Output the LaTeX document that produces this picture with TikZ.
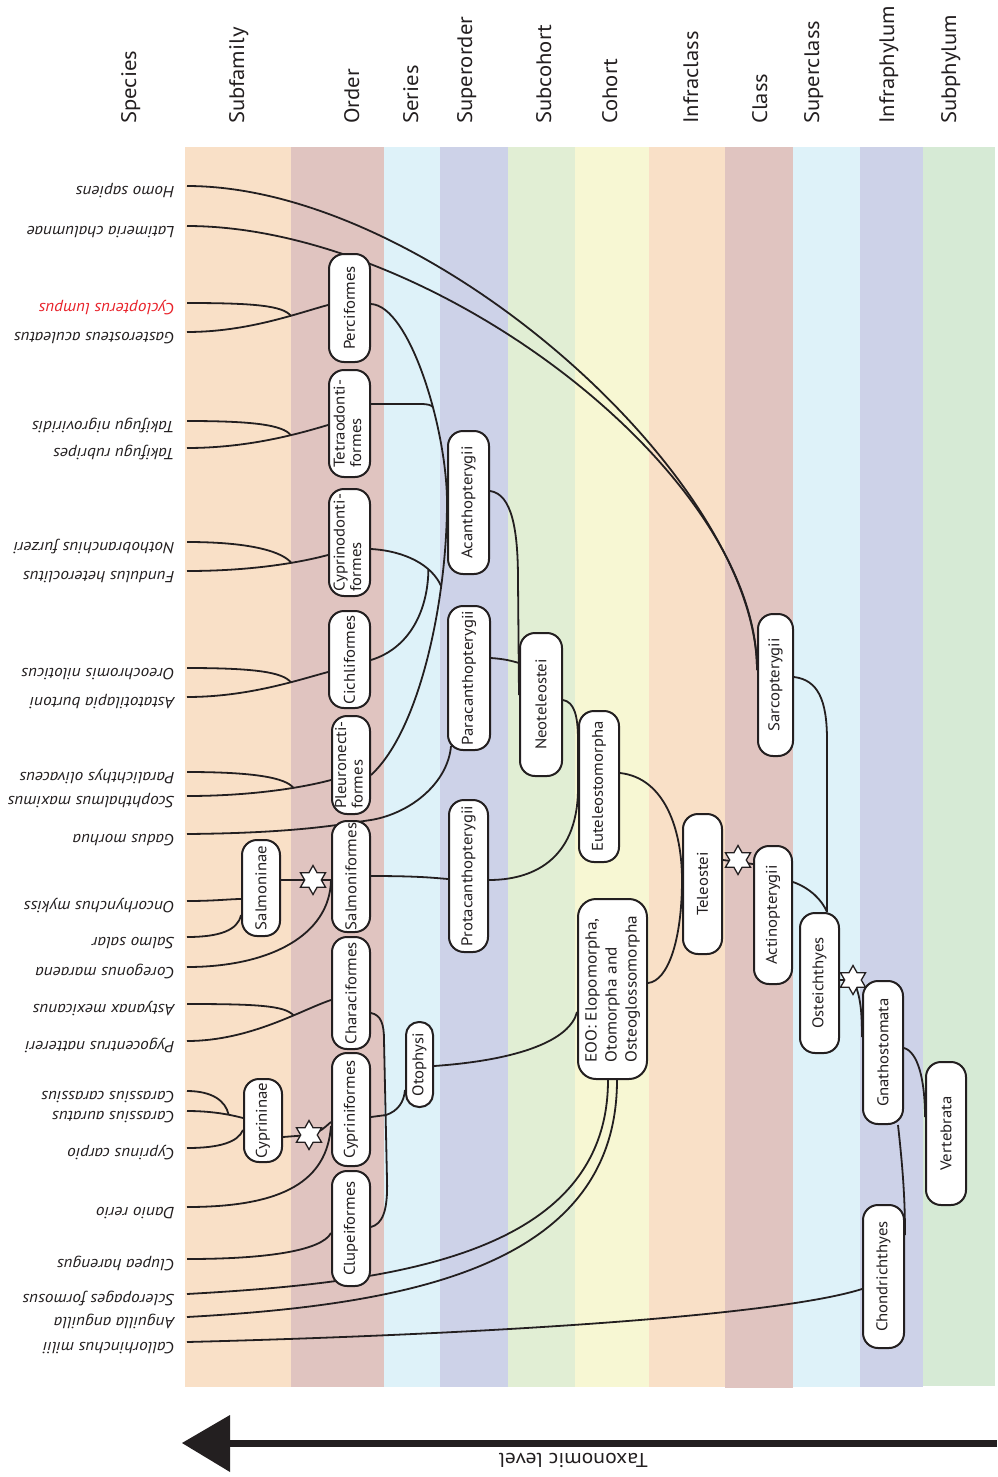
\documentclass[tikz,border=0pt]{standalone}
\usepackage{fontspec}
\setmainfont{PT Sans}[FakeStretch=1.08]
\usepackage{graphicx}
\usetikzlibrary{shapes.geometric,calc}
\pgfdeclarelayer{bands}
\pgfdeclarelayer{links}
\pgfsetlayers{bands,links,main}
\definecolor{ink}{HTML}{231F20}
\definecolor{peach}{HTML}{F9E0C7}
\definecolor{rose}{HTML}{E0C4C0}
\definecolor{sky}{HTML}{DEF2F9}
\definecolor{lavender}{HTML}{CDD2E8}
\definecolor{mint}{HTML}{E1EED4}
\definecolor{cream}{HTML}{F7F7D3}
\definecolor{sage}{HTML}{D6EAD5}
\definecolor{alert}{HTML}{E8232B}
\newcommand\stacked[1]{\begin{tabular}{@{}l@{}}#1\end{tabular}}
\tikzset{
  hdr/.style={rotate=90, anchor=base west, inner sep=0pt, text=ink, font=\fontsize{21}{25}\selectfont},
  species/.style={anchor=base east, inner sep=0pt, outer xsep=12.5pt, outer ysep=0pt, text=ink, font=\fontsize{16}{18}\selectfont\itshape},
  taxon/.style={draw=ink, line width=2pt, fill=white, rounded corners=15pt, inner sep=0pt, text=ink, font=\fontsize{15.5}{16.5}\selectfont},
  dims/.style 2 args={minimum width=#1pt, minimum height=#2pt},
  starmark/.style={star, star points=6, star point ratio=1.75, minimum size=29pt, inner sep=0pt, draw=ink, fill=white, line width=1.3pt},
  link/.style={draw=ink, line width=1.8pt},
}
\begin{document}
\begin{tikzpicture}[x=1pt, y=-1pt]
\useasboundingbox (0,0) rectangle (997,1477);

% coloured rank bands
\begin{pgfonlayer}{bands}
  \fill[peach]    (185,147) rectangle (291,1387);
  \fill[rose]     (291,147) rectangle (384,1387);
  \fill[sky]      (384,147) rectangle (440,1387);
  \fill[lavender] (440,147) rectangle (508,1387);
  \fill[mint]     (508,147) rectangle (575,1387);
  \fill[cream]    (575,147) rectangle (649,1387);
  \fill[peach]    (649,147) rectangle (725,1387);
  \fill[rose]     (725,147) rectangle (793,1388);
  \fill[sky]      (793,147) rectangle (860,1387);
  \fill[lavender] (860,147) rectangle (923,1387);
  \fill[sage]     (923,147) rectangle (995,1386);
\end{pgfonlayer}

% rank headings
\foreach \t/\b in {Species/136,Subfamily/244,Order/359,Series/418,Superorder/472,Subcohort/551,Cohort/617,Infraclass/698,Class/767,Superclass/819,Infraphylum/894,Subphylum/956}
  \node[hdr] (h-\t) at (\b,124) {\t};

% species (upside down)
\foreach \n/\t/\y in {homo/Homo sapiens/186,lati/Latimeria chalumnae/226,gaster/Gasterosteus aculeatus/332,tnig/Takifugu nigroviridis/421,trub/Takifugu rubripes/448,notho/Nothobranchius furzeri/542,fund/Fundulus heteroclitus/571,oreo/Oreochromis niloticus/668,asta/Astatotilapia burtoni/697,para/Paralichthys olivaceus/772,scoph/Scophthalmus maximus/796,gadus/Gadus morhua/834,onco/Oncorhynchus mykiss/901,salmo/Salmo salar/937,coreg/Coregonus maraena/967,asty/Astyanax mexicanus/1004,pygo/Pygocentrus nattereri/1041,ccar/Carassius carassius/1091,caur/Carassius auratus/1111,cypr/Cyprinus carpio/1148,danio/Danio rerio/1207,clupea/Clupea harengus/1259,sclero/Scleropages formosus/1294,angu/Anguilla anguilla/1317,callo/Callorhinchus milii/1342}
  \node[species] (\n) at (187,\y) {\rotatebox{180}{\t}};
\node[species, text=alert] (cyclo) at (187,303) {\rotatebox{180}{Cyclopterus lumpus}};

% taxon boxes
\node[taxon, dims={41}{108}] (perci) at (349.5,308)   {\rotatebox{90}{Perciformes}};
\node[taxon, dims={41}{107}] (tetra) at (349.5,423.5) {\rotatebox{90}{\stacked{Tetraodonti-\\formes}}};
\node[taxon, dims={41}{107}] (cyprd) at (349.5,542.5) {\rotatebox{90}{\stacked{Cyprinodonti-\\formes}}};
\node[taxon, dims={41}{97}]  (cichl) at (349.5,659.5) {\rotatebox{90}{Cichliformes}};
\node[taxon, dims={38}{98}]  (pleur) at (351,765)     {\rotatebox{90}{\stacked{Pleuronecti-\\formes}}};
\node[taxon, dims={38}{111}] (salmf) at (351,876.5)   {\rotatebox{90}{Salmoniformes}};
\node[taxon, dims={38}{112}] (chara) at (351,993)     {\rotatebox{90}{Characiformes}};
\node[taxon, dims={38}{113}] (cypri) at (351,1109.5)  {\rotatebox{90}{Cypriniformes}};
\node[taxon, dims={38}{115}] (clupf) at (351,1228.5)  {\rotatebox{90}{Clupeiformes}};
\node[taxon, dims={38}{96}]  (salmn) at (261,888)     {\rotatebox{90}{Salmoninae}};
\node[taxon, dims={38}{83}]  (cyprn) at (263,1120.5)  {\rotatebox{90}{Cyprininae}};
\node[taxon, dims={27}{85}, rounded corners=13pt] (otoph) at (419.5,1064.5) {\rotatebox{90}{Otophysi}};
\node[taxon, dims={41}{143}] (acant) at (468.5,502.5) {\rotatebox{90}{Acanthopterygii}};
\node[taxon, dims={42}{144}] (parac) at (469,678)     {\rotatebox{90}{Paracanthopterygii}};
\node[taxon, dims={39}{152}] (protc) at (468.5,876)   {\rotatebox{90}{Protacanthopterygii}};
\node[taxon, dims={42}{143}] (neote) at (541,704.5)   {\rotatebox{90}{Neoteleostei}};
\node[taxon, dims={40}{151}] (eutel) at (599,786.5)   {\rotatebox{90}{Euteleostomorpha}};
\node[taxon, dims={69}{180}, rounded corners=18pt, font=\fontsize{16}{20}\selectfont] (eoo) at (612.5,989)
  {\rotatebox{90}{\stacked{EOO: Elopomorpha,\\Otomorpha and\\Osteoglossomorpha}}};
\node[taxon, dims={39}{140}] (telst) at (702.5,884)   {\rotatebox{90}{Teleostei}};
\node[taxon, dims={38}{138}] (actin) at (773,915)     {\rotatebox{90}{Actinopterygii}};
\node[taxon, dims={35}{142}] (sarco) at (775.5,685)   {\rotatebox{90}{Sarcopterygii}};
\node[taxon, dims={39}{140}] (ostei) at (819.5,983)   {\rotatebox{90}{Osteichthyes}};
\node[taxon, dims={40}{143}] (gnath) at (883,1052.5)  {\rotatebox{90}{Gnathostomata}};
\node[taxon, dims={40}{143}] (verte) at (946,1133.5)  {\rotatebox{90}{Vertebrata}};
\node[taxon, dims={41}{143}] (chond) at (883.5,1276.5){\rotatebox{90}{Chondrichthyes}};

% duplication markers
\node[starmark] (st1) at (313,880) {};
\node[starmark] (st2) at (309,1135) {};
\node[starmark] (st3) at (738,860) {};
\node[starmark] (st4) at (853,980) {};

\begin{pgfonlayer}{links}
  % species pairs joining an order
  \draw[link] (gaster.base east) .. controls (248,332) and (298,313) .. (perci.west |- 0,305) coordinate[pos=0.66] (j1);
  \draw[link] (cyclo.base east) .. controls (255,303) and ($(j1)+(-8,-10)$) .. (j1);
  \draw[link] (trub.base east) .. controls (248,448) and (298,434) .. (tetra.west |- 0,425) coordinate[pos=0.66] (j2);
  \draw[link] (tnig.base east) .. controls (255,421) and ($(j2)+(-8,-10)$) .. (j2);
  \draw[link] (fund.base east) .. controls (250,571) and (298,563) .. (cyprd.west |- 0,555) coordinate[pos=0.66] (j3);
  \draw[link] (notho.base east) .. controls (255,542) and ($(j3)+(-8,-10)$) .. (j3);
  \draw[link] (asta.base east) .. controls (248,697) and (298,680) .. (cichl.west |- 0,672) coordinate[pos=0.66] (j4);
  \draw[link] (oreo.base east) .. controls (255,668) and ($(j4)+(-8,-10)$) .. (j4);
  \draw[link] (scoph.base east) .. controls (250,796) and (301,788) .. (pleur.west |- 0,780) coordinate[pos=0.66] (j5);
  \draw[link] (para.base east) .. controls (255,772) and ($(j5)+(-8,-10)$) .. (j5);
  \draw[link] (pygo.base east) .. controls (250,1041) and (301,1010) .. (chara.west |- 0,1000) coordinate[pos=0.66] (j6);
  \draw[link] (asty.base east) .. controls (255,1004) and ($(j6)+(-8,-10)$) .. (j6);

  % cod runs behind the boxes up to Paracanthopterygii
  \draw[link] (gadus.base east) .. controls (300,833) and (342,824) .. (371,820)
              .. controls (412,813) and (448,782) .. ($(parac.south west)+(4,-5)$);

  % salmonids
  \draw[link] (onco.base east) .. controls (215,901) and (230,899) .. (salmn.west |- 0,899);
  \draw[link] (salmo.base east) .. controls (220,937) and (238,930) .. (salmn.west |- 0,915);
  \draw[link] (salmn.east |- 0,880) -- (salmf.west |- 0,880);
  \draw[link] (coreg.base east) .. controls (270,967) and (330,935) .. (salmf.west |- 0,880);

  % cyprinids
  \draw[link] (caur.base east) .. controls (210,1111) and (228,1114) .. (cyprn.west |- 0,1118) coordinate[pos=0.7] (j7);
  \draw[link] (ccar.base east) .. controls (212,1091) and ($(j7)+(-3,-14)$) .. (j7);
  \draw[link] (cypr.base east) .. controls (220,1148) and (238,1142) .. (cyprn.west |- 0,1130);
  \draw[link] (cyprn.east |- 0,1137) -- (st2.center) .. controls (320,1133) and (326,1126) .. (cypri.west |- 0,1122);
  \draw[link] (danio.base east) .. controls (285,1207) and (327,1180) .. (cypri.west |- 0,1126);
  \draw[link] (clupea.base east) .. controls (270,1259) and (322,1250) .. (clupf.west |- 0,1233);

  % basal teleosts and the elephant shark
  \draw[link] (sclero.base east) .. controls (380,1283) and (608,1260) .. (608,0 |- eoo.south);
  \draw[link] (angu.base east) .. controls (400,1305) and (617,1270) .. (617,0 |- eoo.south);
  \draw[link] (callo.base east) .. controls (500,1334) and (780,1315) .. (chond.west |- 0,1289);

  % lobe-finned lineage
  \draw[link] (homo.base east) .. controls (430,186) and (757,480) .. (sarco.west |- 0,670);
  \draw[link] (lati.base east) .. controls (430,226) and (757,470) .. (sarco.west |- 0,670);

  % Acanthopterygii arc
  \draw[link] (perci.east |- 0,304) .. controls (410,306) and (447,430) .. (acant.west) coordinate[pos=0.62] (j8)
              .. controls (447,600) and (420,730) .. (pleur.east |- 0,775) coordinate[pos=0.27] (j10);
  \draw[link] (tetra.east |- 0,404) -- (420,404) .. controls (428,404) and (431,405) .. (j8);
  \draw[link] (cyprd.east |- 0,549) .. controls (405,551) and (432,565) .. (j10) coordinate[pos=0.7] (j9);
  \draw[link] (cichl.east |- 0,660) .. controls (410,648) and (428,610) .. (j9);

  % superorders to Neoteleostei / Euteleostomorpha
  \draw[link] (acant.east |- 0,491) .. controls (512,494) and (518,530) .. (518,580) -- (neote.west |- 0,695);
  \draw[link] (parac.east |- 0,658) .. controls (505,659) and (512,661) .. (neote.west |- 0,663);
  \draw[link] (neote.east |- 0,700) .. controls (574,702) and (578,715) .. (eutel.west |- 0,740)
              -- (eutel.west |- 0,790) .. controls (577,862) and (530,880) .. (protc.east |- 0,880);
  \draw[link] (salmf.east |- 0,876) .. controls (420,876) and (435,878) .. (protc.west |- 0,879);

  % teleost backbone
  \draw[link] (eutel.east |- 0,773) .. controls (665,778) and (682,830) .. (telst.west |- 0,880)
              .. controls (682,940) and (668,981) .. (eoo.east |- 0,983);
  \draw[link] (otoph.east |- 0,1066) .. controls (520,1060) and (570,1040) .. (eoo.west |- 0,1012);
  \draw[link] (chara.east |- 0,1013) .. controls (381,1015) and (384,1024) .. (384,1040)
              -- (387,1180) .. controls (388,1212) and (382,1224) .. (clupf.east |- 0,1227);
  \draw[link] (cypri.east |- 0,1117) -- (386,1115) .. controls (398,1111) and (404,1102) .. (otoph.west |- 0,1090);

  % jawed vertebrates
  \draw[link] (telst.east |- 0,860) -- (actin.west |- 0,864);
  \draw[link] (actin.east |- 0,882) .. controls (810,888) and (822,900) .. (827,0 |- ostei.north);
  \draw[link] (sarco.east |- 0,677) .. controls (818,680) and (827,700) .. (827,740) -- (827,0 |- ostei.north);
  \draw[link] (ostei.east |- 0,980) -- (st4.center) .. controls (861,995) and (862,1015) .. (gnath.west |- 0,1037);
  \draw[link] (gnath.east |- 0,1048) .. controls (918,1052) and (925,1080) .. (verte.west |- 0,1117);
  \draw[link] (898,0 |- gnath.south) .. controls (903,1170) and (905,1200) .. (chond.east |- 0,1235);
\end{pgfonlayer}

% taxonomic level axis
\coordinate (axR) at (997,1443);
\coordinate (axL) at (226,1443);
\draw[ink, line width=7pt] (axR) -- (axL);
\fill[ink] (182,1443) -- (230,1415) -- (230,1472) -- cycle;
\node[anchor=base east, inner sep=0pt, text=ink, font=\fontsize{20}{24}\selectfont] (axlabel) at (648,1453) {\rotatebox{180}{Taxonomic level}};
\end{tikzpicture}
\end{document}
